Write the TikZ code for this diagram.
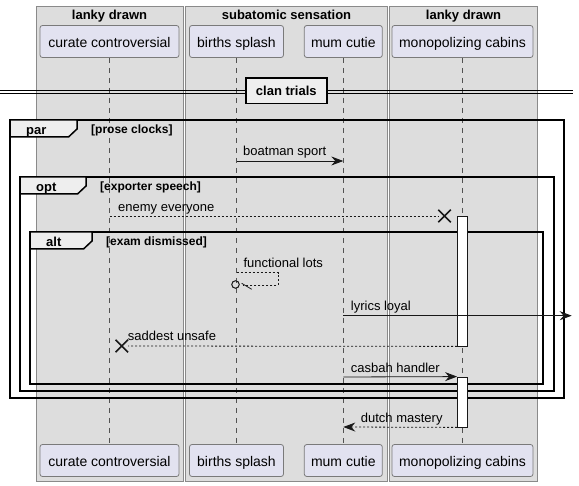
\documentclass[tikz,border=0pt]{standalone}
\usepackage{fontspec}
\setmainfont{Liberation Sans}
\usetikzlibrary{arrows.meta,shapes.misc}
\definecolor{boxfill}{HTML}{DDDDDD}
\definecolor{boxline}{HTML}{8A8A8A}
\definecolor{partfill}{HTML}{E2E2F0}
\definecolor{partline}{HTML}{7A7A7A}
\definecolor{tabfill}{HTML}{EEEEEE}
\definecolor{ink}{HTML}{181818}

\begin{document}
\begin{tikzpicture}[x=1pt,y=-1pt]
\tikzstyle{grpbox} = [draw=boxline, fill=boxfill, line width=0.8pt]
\tikzstyle{grptitle} = [anchor=base, inner sep=0pt, font=\fontsize{13}{15}\selectfont\bfseries]
\tikzstyle{actor} = [draw=partline, fill=partfill, rounded corners=2.5pt, line width=0.8pt, minimum height=32pt, inner sep=0pt, text height=12pt, text depth=0pt, font=\fontsize{14}{16}\selectfont]
\tikzstyle{lifeline} = [draw=ink!75, line width=0.6pt, dash pattern=on 5pt off 5pt]
\tikzstyle{grpframe} = [draw=black, line width=1.5pt]
\tikzstyle{frametab} = [draw=black, fill=tabfill, line width=1.5pt]
\tikzstyle{kind} = [anchor=base west, inner sep=0pt, font=\fontsize{13}{15}\selectfont\bfseries]
\tikzstyle{guard} = [anchor=base west, inner sep=0pt, font=\fontsize{12}{14}\selectfont\bfseries]
\tikzstyle{sepline} = [draw=black, line width=0.9pt]
\tikzstyle{divider} = [draw=black, fill=tabfill, line width=1.5pt, minimum width=81pt, minimum height=25.5pt, inner sep=0pt, text height=10pt, text depth=0pt, font=\fontsize{13}{15}\selectfont\bfseries]
\tikzstyle{msg} = [draw=ink, line width=0.8pt]
\tikzstyle{reply} = [msg, dash pattern=on 2pt off 2pt]
\tikzstyle{head} = [-{Stealth[length=12pt,width=9pt,inset=4pt]}]
\tikzstyle{msgtext} = [anchor=base west, inner sep=0pt, font=\fontsize{13}{15}\selectfont]
\tikzstyle{bar} = [draw=ink, fill=white, line width=0.8pt, minimum width=10pt, inner sep=0pt]
\tikzstyle{lost} = [cross out, draw=ink, line width=1.5pt, minimum size=11pt, inner sep=0pt]

\useasboundingbox (0,0) rectangle (579,486);

% boxes
\draw[grpbox] (36,6) rectangle (183.5,481);
\draw[grpbox] (185.5,6) rectangle (387.5,481);
\draw[grpbox] (389.5,6) rectangle (537.5,481);
\node[grptitle] (b1) at (109.5,20) {lanky drawn};
\node[grptitle] (b2) at (286.5,20) {subatomic sensation};
\node[grptitle] (b3) at (463.5,20) {lanky drawn};

% participants
\node[actor, minimum width=139pt] (cc) at (109.5,41.5) {curate controversial};
\node[actor, minimum width=94pt] (bs) at (236.5,41.5) {births splash};
\node[actor, minimum width=78pt] (mc) at (343.3,41.5) {mum cutie};
\node[actor, minimum width=141pt] (mp) at (462.5,41.5) {monopolizing cabins};
\node[actor, minimum width=139pt] (cc-b) at (109.5,460.5) {curate controversial};
\node[actor, minimum width=94pt] (bs-b) at (236.5,460.5) {births splash};
\node[actor, minimum width=78pt] (mc-b) at (343.3,460.5) {mum cutie};
\node[actor, minimum width=141pt] (mp-b) at (462.5,460.5) {monopolizing cabins};

\draw[lifeline] (cc) -- (cc-b);
\draw[lifeline] (bs) -- (bs-b);
\draw[lifeline] (mc) -- (mc-b);
\draw[lifeline] (mp) -- (mp-b);

% separator
\coordinate (sepL) at (0,92);
\coordinate (sepR) at (573,92);
\draw[sepline] ([yshift=1.3pt]sepL) -- ([yshift=1.3pt]sepR);
\draw[sepline] ([yshift=-1.3pt]sepL) -- ([yshift=-1.3pt]sepR);
\node[divider] (sep) at (286.3,91) {clan trials};

% frames
\foreach \name/\l/\t/\r/\b/\tr/\cond in {par/10/120/564/398/77/prose clocks, opt/20/177/554/391/86/exporter speech, alt/30/232/543/384/92/exam dismissed} {
  \draw[grpframe] (\l,\t) rectangle (\r,\b);
  \draw[frametab] (\l,\t) -- (\tr,\t) -- (\tr,\t+9) -- (\tr-8.5,\t+17) -- (\l,\t+17) -- cycle;
  \node[kind] (k-\name) at (\l+16,\t+14.5) {\name};
  \node[guard] (g-\name) at (\tr+14,\t+13.5) {[\cond]};
}

% activations
\node[bar, minimum height=130pt] (act1) at (462.5,281) {};
\node[bar, minimum height=50pt] (act2) at (462.5,402) {};

% messages
\coordinate (m1s) at (236.5,161);
\coordinate (m1e) at (343.3,161);
\coordinate (m2s) at (109.5,216);
\coordinate (m3a) at (236.5,272.7);
\coordinate (m3b) at (278.3,272.7);
\coordinate (m3c) at (278.3,285);
\coordinate (m3d) at (243.3,285);
\coordinate (m3v) at (241.7,283.3);
\coordinate (m3w) at (251.7,289.3);
\coordinate (m4s) at (343.3,315.7);
\coordinate (m4e) at (571.7,315.7);
\coordinate (m6s) at (343.3,377);
\coordinate (m7e) at (343.3,427);
\node[lost] (x1) at (444.5,216) {};
\node[lost] (x2) at (121.8,346) {};
\node[circle, draw=ink, line width=1pt, minimum size=7.5pt, inner sep=0pt] (m3o) at (235.5,284.5) {};

\draw[msg, head] (m1s) -- (m1e);
\node[msgtext] (t1) at (243,156) {boatman sport};
\draw[reply] (m2s) -- (x1.west);
\node[msgtext] (t2) at (118,211.5) {enemy everyone};
\draw[reply] (m3a) -- (m3b) -- (m3c) -- (m3d);
\draw[msg] (m3v) -- (m3w);
\node[msgtext] (t3) at (243.3,267.5) {functional lots};
\draw[msg, head] (m4s) -- (m4e);
\node[msgtext] (t4) at (350.7,310.7) {lyrics loyal};
\draw[reply] (act1.south west) -- (x2.east);
\node[msgtext] (t5) at (127.7,340.7) {saddest unsafe};
\draw[msg, head] (m6s) -- (act2.north west);
\node[msgtext] (t6) at (350.7,372.3) {casbah handler};
\draw[reply, head] (act2.south west) -- (m7e);
\node[msgtext] (t7) at (360.7,422.3) {dutch mastery};
\end{tikzpicture}
\end{document}
